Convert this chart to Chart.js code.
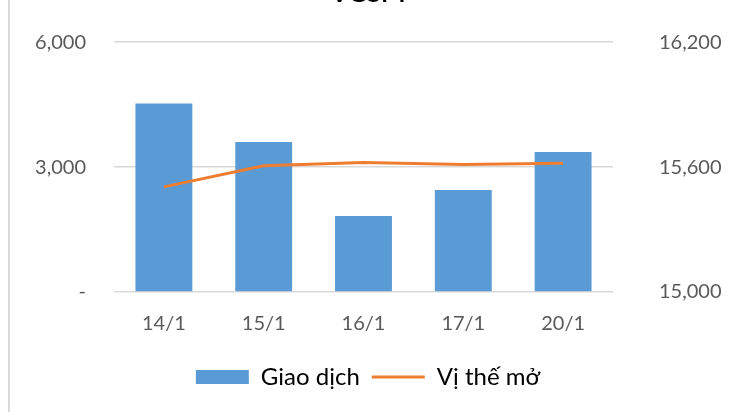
<!DOCTYPE html>
<html>
<head>
<meta charset="utf-8">
<script src="https://cdn.jsdelivr.net/npm/chart.js@4/dist/chart.umd.min.js"></script>
<style>
  html, body { margin: 0; padding: 0; background: #fff; }
  #wrap { position: relative; width: 736px; height: 412px; overflow: hidden; }
  #frame { position: absolute; left: 8px; top: 0; width: 2px; height: 412px; background: #d9d9d9; }
  #box { position: absolute; left: 0; top: -20px; width: 736px; height: 432px; }
</style>
</head>
<body>
<div id="wrap">
  <div id="box"><canvas id="c" width="736" height="432"></canvas></div>
  <div id="frame"></div>
</div>
<script>
const titleText = "VGSM";
const categories = ["14/1", "15/1", "16/1", "17/1", "20/1"];
const volumeLabel = "Giao dịch";
const volume = [4530, 3600, 1825, 2450, 3360];
const oiLabel = "Vị thế mở";
const openInterest = [15505, 15606, 15622, 15612, 15618];
const leftTicks = [0, 3000, 6000];
const rightTicks = [15000, 15600, 16200];

const FONT = "Lato, 'Open Sans', sans-serif";
const fmt = v => v === 0 ? "-" : v.toLocaleString("en-US");

new Chart(document.getElementById("c"), {
  data: {
    labels: categories,
    datasets: [
      {
        type: "line",
        label: oiLabel,
        data: openInterest,
        yAxisID: "y2",
        borderColor: "#ED7D31",
        backgroundColor: "#ED7D31",
        borderWidth: 3,
        pointRadius: 0,
        tension: 0,
        order: 0
      },
      {
        type: "bar",
        label: volumeLabel,
        data: volume,
        yAxisID: "y",
        backgroundColor: "#5B9BD5",
        borderWidth: 0,
        categoryPercentage: 1,
        barPercentage: 0.57,
        order: 1
      }
    ]
  },
  options: {
    responsive: false,
    animation: false,
    events: [],
    layout: { padding: { left: 0, right: 0, top: 0, bottom: 13 } },
    plugins: {
      title: {
        display: true,
        text: titleText,
        color: "#000",
        font: { family: FONT, size: 26, weight: "bold" },
        padding: { top: -2, bottom: 33 }
      },
      legend: {
        position: "bottom",
        labels: {
          usePointStyle: true,
          pointStyleWidth: 53,
          boxHeight: 14,
          padding: 12,
          color: "#000",
          font: { family: FONT, size: 24 },
          generateLabels(chart) {
            const ds = chart.data.datasets;
            return [1, 0].map(i => ({
              text: ds[i].label,
              datasetIndex: i,
              fillStyle: ds[i].backgroundColor,
              strokeStyle: ds[i].borderColor,
              lineWidth: i === 0 ? 3 : 0,
              pointStyle: i === 0 ? "line" : "rect",
              fontColor: "#000",
              hidden: false
            }));
          }
        }
      },
      tooltip: { enabled: false }
    },
    scales: {
      x: {
        grid: { display: false, drawTicks: false },
        border: { display: false },
        ticks: { color: "#595959", font: { family: FONT, size: 20 }, padding: 20 },
        afterFit(s) { s.height = 61; }
      },
      y: {
        position: "left",
        min: 0, max: 6000,
        afterBuildTicks(s) { s.ticks = leftTicks.map(v => ({ value: v })); },
        grid: { color: "#d9d9d9", lineWidth: 1.5, drawTicks: false },
        border: { display: false },
        ticks: { color: "#595959", font: { family: FONT, size: 20 }, padding: 28, callback: v => fmt(v) },
        afterFit(s) { s.width = 114; }
      },
      y2: {
        position: "right",
        min: 15000, max: 16200,
        afterBuildTicks(s) { s.ticks = rightTicks.map(v => ({ value: v })); },
        grid: { display: false, drawTicks: false },
        border: { display: false },
        ticks: { color: "#595959", font: { family: FONT, size: 20 }, padding: 46, callback: v => v.toLocaleString("en-US") },
        afterFit(s) { s.width = 123; }
      }
    }
  }
});
</script>
</body>
</html>
